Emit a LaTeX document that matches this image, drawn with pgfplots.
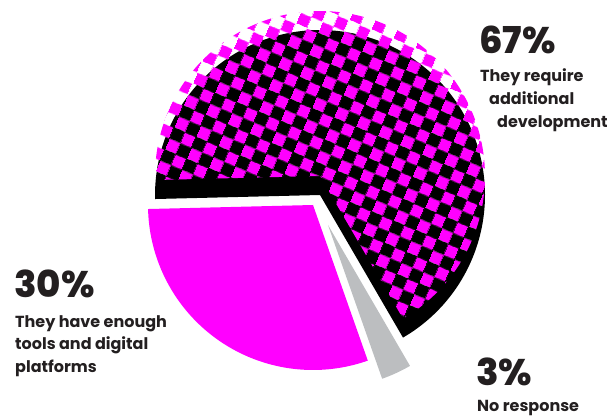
\documentclass[border=0pt]{standalone}
\usepackage{pgfplots}
\pgfplotsset{compat=1.18}
\usepackage{fontspec}
\setmainfont{Poppins}
\newfontfamily\pctfont{Poppins ExtraBold}
\usetikzlibrary{patterns.meta}
\definecolor{mag}{HTML}{FF00FF}
\definecolor{gry}{HTML}{BCBEC0}
\definecolor{ink}{HTML}{231F20}

\pgfdeclarepattern{
  name=checker,
  type=uncolored,
  bottom left={\pgfpoint{0pt}{0pt}},
  top right={\pgfpoint{24pt}{24pt}},
  tile size={\pgfpoint{24pt}{24pt}},
  tile transformation={\pgftransformrotate{-23}},
  code={
    \pgfpathrectangle{\pgfpoint{0pt}{0pt}}{\pgfpoint{12pt}{12pt}}
    \pgfpathrectangle{\pgfpoint{12pt}{12pt}}{\pgfpoint{12pt}{12pt}}
    \pgfusepath{fill}
  }
}

% shares (percent)
\def\vReq{67}
\def\vNo{3}
\def\vTools{30}
\pgfmathsetmacro\aStart{181.4}
\pgfmathsetmacro\aOne{\aStart-\vReq*3.6}
\pgfmathsetmacro\aTwo{\aOne-\vNo*3.6}
\pgfmathsetmacro\aThree{\aTwo-\vTools*3.6}

\begin{document}
\begin{tikzpicture}
\begin{axis}[x=1pt,y=1pt,scale only axis,
  xmin=0,xmax=609,ymin=0,ymax=417,
  hide axis, clip=false]
% shadow of the 67% slice
\addplot[fill=black, draw=none, mark=none, domain=\aOne:\aStart, samples=150]
  ({320+165*cos(x)},{222+165*sin(x)}) -- (axis cs:320,222) -- cycle;
% 67% slice, checkered
\addplot[pattern=checker, pattern color=mag, draw=none, mark=none, domain=\aOne:\aStart, samples=150]
  ({320+165*cos(x)},{241+165*sin(x)}) -- (axis cs:320,241) -- cycle;
% 3% slice
\addplot[fill=gry, draw=none, mark=none, domain=\aTwo:\aOne, samples=30]
  ({328+163*cos(x)},{192+163*sin(x)}) -- (axis cs:328,192) -- cycle;
% 30% slice
\addplot[fill=mag, draw=none, mark=none, domain=\aThree:\aTwo, samples=100]
  ({313+165*cos(x)},{212+165*sin(x)}) -- (axis cs:313,212) -- cycle;

\tikzset{pct/.style={anchor=base west, inner sep=0pt, text=ink, font=\pctfont\fontsize{37}{37}\selectfont},
         lab/.style={anchor=base west, inner sep=0pt, text=ink, font=\bfseries\fontsize{16}{18}\selectfont}}
\node[pct] at (axis cs:479,363) {67\%};
\node[lab] at (axis cs:480,335) {They require};
\node[lab] at (axis cs:489,312) {additional};
\node[lab] at (axis cs:497,289) {development};

\node[pct] at (axis cs:14,119) {30\%};
\node[lab] at (axis cs:15,89) {They have enough};
\node[lab] at (axis cs:15,67) {tools and digital};
\node[lab] at (axis cs:15,45) {platforms};

\node[pct] at (axis cs:476,32) {3\%};
\node[lab] at (axis cs:477,6) {No response};
\end{axis}
\pgfresetboundingbox
\useasboundingbox (0,0) rectangle (609pt,417pt);
\end{tikzpicture}
\end{document}
